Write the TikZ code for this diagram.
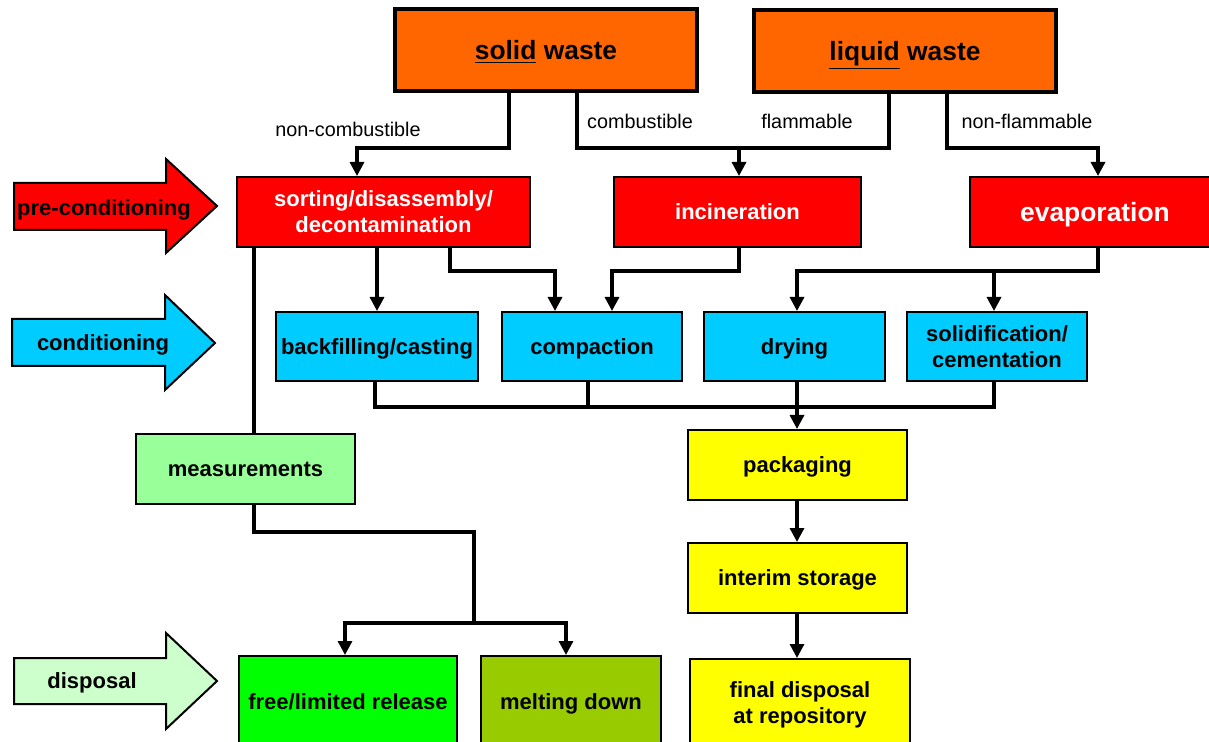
\documentclass[tikz,border=0pt]{standalone}
\usepackage{fontspec}
\setmainfont{Liberation Sans}
\usetikzlibrary{arrows.meta}

\definecolor{wasteorange}{HTML}{FF6600}
\definecolor{prered}{HTML}{FF0000}
\definecolor{condcyan}{HTML}{00CCFF}
\definecolor{measgreen}{HTML}{99FF99}
\definecolor{dispgreen}{HTML}{CCFFCC}
\definecolor{releasegreen}{HTML}{00FF00}
\definecolor{meltgreen}{HTML}{99CC00}
\definecolor{packyellow}{HTML}{FFFF00}

\tikzset{
  box/.style={draw, line width=1pt, inner sep=0pt, align=center, text depth=0pt,
    font=\bfseries\fontsize{11}{13}\selectfont},
  topbox/.style={box, line width=2pt, fill=wasteorange,
    minimum width=151pt, minimum height=41pt,
    font=\bfseries\fontsize{13.2}{15}\selectfont},
  link/.style={line width=1.6pt},
  tip/.style={-{Triangle[length=7pt,width=7pt]}},
  branch/.style={font=\fontsize{9.9}{12}\selectfont},
  stage/.style={draw, line width=1pt},
  stagetext/.style={font=\bfseries\fontsize{11}{13}\selectfont, text depth=0pt}
}

\begin{document}
\begin{tikzpicture}[x=0.5pt,y=-0.5pt]
  \useasboundingbox (0,0) rectangle (1209,742);

  % stage arrows
  \draw[stage,fill=prered] (14,183) -- (166,183) -- (166,159) -- (217,206) -- (166,253) -- (166,230) -- (14,230) -- cycle;
  \draw[stage,fill=condcyan] (12,319) -- (165,319) -- (165,295) -- (215,343) -- (165,390) -- (165,366) -- (12,366) -- cycle;
  \draw[stage,fill=dispgreen] (14,658) -- (166,658) -- (166,633) -- (217,681) -- (166,729) -- (166,704) -- (14,704) -- cycle;
  \node[stagetext] (precond) at (104,208) {pre-conditioning};
  \node[stagetext] (cond) at (103,343) {conditioning};
  \node[stagetext] (disp) at (92,681) {disposal};

  % waste types
  \node[topbox] (solid) at (546,50) {\underline{solid} waste};
  \node[topbox] (liquid) at (905,51) {\underline{liquid} waste};

  % pre-conditioning
  \node[box,fill=prered,text=white,minimum width=146.5pt,minimum height=35pt] (sort) at (383.5,212) {sorting/disassembly/\\decontamination};
  \node[box,fill=prered,text=white,minimum width=123.5pt,minimum height=35pt] (incin) at (737.5,212) {incineration};
  \node[box,fill=prered,text=white,minimum width=125pt,minimum height=35pt,
    font=\bfseries\fontsize{13.2}{15}\selectfont] (evap) at (1095,212) {evaporation};

  % conditioning
  \node[box,fill=condcyan,minimum width=101pt,minimum height=34.5pt] (backf) at (377,346.5) {backfilling/casting};
  \node[box,fill=condcyan,minimum width=90pt,minimum height=34.5pt] (compact) at (592,346.5) {compaction};
  \node[box,fill=condcyan,minimum width=90.5pt,minimum height=34.5pt] (dry) at (794.5,346.5) {drying};
  \node[box,fill=condcyan,minimum width=90pt,minimum height=34.5pt] (cement) at (997,346.5) {solidification/\\cementation};

  % measuring, storing, disposal
  \node[box,fill=measgreen,minimum width=109.5pt,minimum height=35pt] (meas) at (245.5,469) {measurements};
  \node[box,fill=packyellow,minimum width=109.5pt,minimum height=35pt] (pack) at (797.5,465) {packaging};
  \node[box,fill=packyellow,minimum width=109.5pt,minimum height=35pt] (store) at (797.5,578) {interim storage};
  \node[box,fill=releasegreen,minimum width=109pt,minimum height=46pt] (free) at (348,702) {free/limited release};
  \node[box,fill=meltgreen,minimum width=90pt,minimum height=46pt] (melt) at (571,702) {melting down};
  \node[box,fill=packyellow,minimum width=110pt,minimum height=44pt] (final) at (800,703) {final disposal\\at repository};

  % branch labels
  \node[branch] (noncomb) at (348,129) {non-combustible};
  \node[branch] (comb) at (640,121) {combustible};
  \node[branch] (flam) at (807,121) {flammable};
  \node[branch] (nonflam) at (1027,121) {non-flammable};

  % connectors
  \draw[link,tip] (509,0 |- solid.south) -- (509,148) -| (357,0 |- sort.north);
  \draw[link,tip] (577,0 |- solid.south) -- (577,148) -| (739,0 |- incin.north);
  \draw[link] (889,0 |- liquid.south) |- (739,148);
  \draw[link,tip] (947,0 |- liquid.south) -- (947,148) -| (1098,0 |- evap.north);

  \draw[link,tip] (377,0 |- sort.south) -- (377,0 |- backf.north);
  \draw[link,tip] (450,0 |- sort.south) -- (450,271) -| (555,0 |- compact.north);
  \draw[link,tip] (739,0 |- incin.south) -- (739,271) -| (612,0 |- compact.north);
  \draw[link,tip] (1098,0 |- evap.south) -- (1098,271) -| (797,0 |- dry.north);
  \draw[link,tip] (994,271) -- (994,0 |- cement.north);

  \draw[link] (375,0 |- backf.south) |- (994,407) -- (994,0 |- cement.south);
  \draw[link] (588,0 |- compact.south) -- (588,407);
  \draw[link,tip] (797,0 |- dry.south) -- (797,0 |- pack.north);
  \draw[link,tip] (797,0 |- pack.south) -- (797,0 |- store.north);
  \draw[link,tip] (797,0 |- store.south) -- (797,0 |- final.north);

  \draw[link] (254,0 |- sort.south) -- (254,0 |- meas.north);
  \draw[link] (254,0 |- meas.south) |- (474,532) -- (474,623);
  \draw[link,tip] (474,623) -| (345,0 |- free.north);
  \draw[link,tip] (474,623) -| (566,0 |- melt.north);
\end{tikzpicture}
\end{document}
